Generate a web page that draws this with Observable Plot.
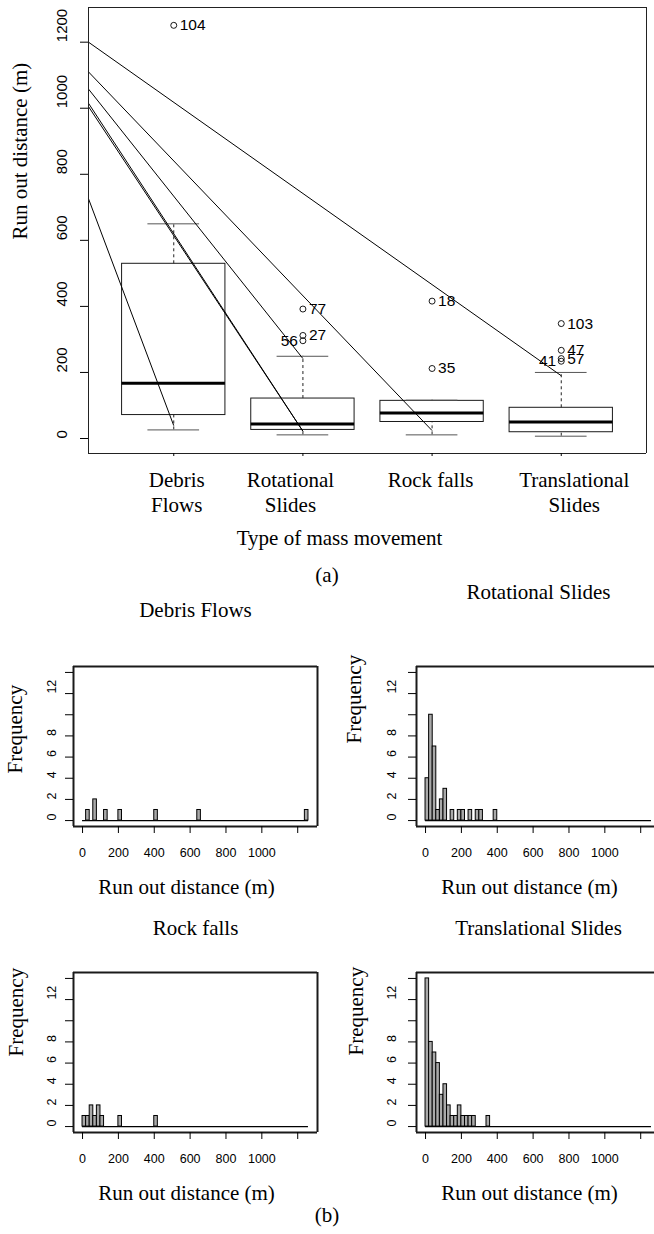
<!DOCTYPE html>
<html lang="en">
<head>
<meta charset="utf-8">
<title>Run out distance by type of mass movement</title>
<script src="https://cdn.jsdelivr.net/npm/d3@7"></script>
<script src="https://cdn.jsdelivr.net/npm/@observablehq/plot@0.6"></script>
<style>
  html, body { margin: 0; padding: 0; background: #fff; overflow: hidden; }
  #page { position: relative; width: 654px; height: 1234px; overflow: hidden; background: #fff; }
  #page svg { position: absolute; overflow: visible; }
  .panel-tag { position: absolute; left: 0; width: 654px; text-align: center;
    font-family: "Liberation Serif", "Times New Roman", Times, serif; font-size: 21px; line-height: 24px; color: #000; }
</style>
</head>
<body>
<div id="page"></div>
<script>
// ---------------- data ----------------
const categories = ["Debris Flows", "Rotational Slides", "Rock falls", "Translational Slides"];
const categoryTickLabels = ["Debris\nFlows", "Rotational\nSlides", "Rock falls", "Translational\nSlides"];

// Box-plot statistics per category (m)
const whiskerLow  = [26, 11, 11, 7];
const hingeLow    = [71, 26, 50, 19];
const medianValue = [167, 44, 77, 50];
const hingeHigh   = [529, 121, 114, 93];
const whiskerHigh = [650, 249, 116, 200];

// Outlying events: category (1-based), run out distance (m), event number
const outlierCategory = [1, 2, 2, 2, 3, 3, 4, 4, 4, 4];
const outlierValue    = [1251, 392, 312, 296, 416, 212, 348, 267, 242, 234];
const outlierId       = ["104", "77", "27", "56", "18", "35", "103", "47", "57", "41"];

// Straight lines over the box plot: value at the left edge, end category, end value (m)
const lineStartValue  = [1200, 1110, 1058, 1015, 1005, 726];
const lineEndCategory = [4, 3, 2, 2, 2, 1];
const lineEndValue    = [190, 24, 242, 22, 22, 39];

const runOutTicks = [0, 200, 400, 600, 800, 1000, 1200];

// Histograms: 20 m bins over 0–1260 m, given by lower bin edge and frequency
const binWidth = 20;
const binRange = [0, 1260];
const debrisBinStart = [20, 60, 120, 200, 400, 640, 1240];
const debrisCount    = [1, 2, 1, 1, 1, 1, 1];
const rotationalBinStart = [0, 20, 40, 60, 80, 100, 140, 180, 200, 240, 280, 300, 380];
const rotationalCount    = [4, 10, 7, 1, 2, 3, 1, 1, 1, 1, 1, 1, 1];
const rockfallBinStart = [0, 20, 40, 60, 80, 100, 200, 400];
const rockfallCount    = [1, 1, 2, 1, 2, 1, 1, 1];
const translationalBinStart = [0, 20, 40, 60, 80, 100, 120, 140, 160, 180, 200, 220, 240, 260, 340];
const translationalCount    = [14, 8, 7, 6, 3, 4, 2, 1, 1, 2, 1, 1, 1, 1, 1];

const freqTicks  = [0, 2, 4, 6, 8, 10, 12, 14];
const freqLabels = ["0", "2", "4", "6", "8", "", "12", ""];
const distTicks  = [0, 200, 400, 600, 800, 1000, 1200];
const distLabels = ["0", "200", "400", "600", "800", "1000", ""];

// ---------------- drawing ----------------
const SERIF = '"Liberation Serif", "Times New Roman", Times, serif';
const SANS = '"Liberation Sans", Arial, Helvetica, sans-serif';
const page = document.getElementById("page");

function place(node, left, top) {
  node.style.left = left + "px";
  node.style.top = top + "px";
  page.appendChild(node);
}
function tag(text, top) {
  const d = document.createElement("div");
  d.className = "panel-tag";
  d.style.top = top + "px";
  d.textContent = text;
  page.appendChild(d);
}
// box around the plotting area, as four rules on the scale domains
function border(xDom, yDom, stroke, strokeWidth = 1) {
  return [
    Plot.ruleY(yDom, {x1: xDom[0], x2: xDom[1], stroke, strokeWidth}),
    Plot.ruleX(xDom, {y1: yDom[0], y2: yDom[1], stroke, strokeWidth})
  ];
}

// (a) box plot of run out distance by type
const xDomainBox = [0.34, 4.66];
const yDomainBox = [-45.4, 1305];
const boxHalf = 0.4, capHalf = 0.2;
// horizontal nudge (px) of each category's label under the axis
const labelNudge = [3, -12.5, -1.5, 13];

const boxes = categories.map((name, i) => {
  const [line1, line2 = ""] = categoryTickLabels[i].split("\n");
  return {name, pos: i + 1, lo: whiskerLow[i], q1: hingeLow[i], med: medianValue[i],
          q3: hingeHigh[i], hi: whiskerHigh[i], line1, line2};
});
const outliers = outlierValue.map((v, i) => ({pos: outlierCategory[i], value: v, id: outlierId[i]}));
const labelOnLeft = new Set(["56", "41"]);
const segments = lineStartValue.map((v, i) => ({
  x1: xDomainBox[0], y1: v, x2: lineEndCategory[i], y2: lineEndValue[i]
}));

const categoryLabelMarks = boxes.flatMap((b, i) => [
  Plot.text([b], {x: "pos", text: "line1", frameAnchor: "bottom", dx: labelNudge[i], dy: 27,
    lineAnchor: "middle", fontFamily: SERIF, fontSize: 21}),
  Plot.text([b], {x: "pos", text: "line2", frameAnchor: "bottom", dx: labelNudge[i], dy: 52,
    lineAnchor: "middle", fontFamily: SERIF, fontSize: 21})
]);

const boxChart = Plot.plot({
  width: 654, height: 556,
  marginTop: 7, marginRight: 8, marginBottom: 103, marginLeft: 88,
  x: {domain: xDomainBox, label: null, axis: null},
  y: {domain: yDomainBox, label: null, axis: null},
  style: {background: "transparent", fontFamily: SANS, color: "#000"},
  marks: [
    Plot.rect(boxes, {x1: d => d.pos - boxHalf, x2: d => d.pos + boxHalf, y1: "q1", y2: "q3",
      fill: "none", stroke: "#1a1a1a"}),
    Plot.ruleX(boxes, {x: "pos", y1: "q3", y2: "hi", stroke: "#222", strokeDasharray: "3,3"}),
    Plot.ruleX(boxes, {x: "pos", y1: "lo", y2: "q1", stroke: "#222", strokeDasharray: "3,3"}),
    Plot.ruleY(boxes, {y: "hi", x1: d => d.pos - capHalf, x2: d => d.pos + capHalf, stroke: "#555"}),
    Plot.ruleY(boxes, {y: "lo", x1: d => d.pos - capHalf, x2: d => d.pos + capHalf, stroke: "#555"}),
    Plot.ruleY(boxes, {y: "med", x1: d => d.pos - boxHalf, x2: d => d.pos + boxHalf,
      stroke: "#000", strokeWidth: 3}),
    Plot.dot(outliers, {x: "pos", y: "value", r: 3, fill: "none", stroke: "#000", strokeWidth: 0.9}),
    Plot.text(outliers.filter(d => !labelOnLeft.has(d.id)), {x: "pos", y: "value", text: "id",
      dx: 6, textAnchor: "start", lineAnchor: "middle", fontSize: 15.5}),
    Plot.text(outliers.filter(d => labelOnLeft.has(d.id)), {x: "pos", y: "value", text: "id",
      dx: -5, textAnchor: "end", lineAnchor: "middle", fontSize: 15.5}),
    Plot.link(segments, {x1: "x1", y1: "y1", x2: "x2", y2: "y2", stroke: "#000", strokeWidth: 1}),
    ...border(xDomainBox, yDomainBox, "#222"),
    Plot.axisY(runOutTicks, {anchor: "left", tickSize: 8, tickFormat: () => "", label: null}),
    Plot.text(runOutTicks, {y: d => d, text: d => String(d), frameAnchor: "left", dx: -26,
      rotate: -90, lineAnchor: "middle", fontSize: 15}),
    Plot.axisX([1, 2, 3, 4], {anchor: "bottom", tickSize: 3, tickFormat: () => "", label: null}),
    ...categoryLabelMarks,
    Plot.text(["Type of mass movement"], {text: d => d, frameAnchor: "bottom", dx: -28, dy: 85,
      lineAnchor: "middle", fontFamily: SERIF, fontSize: 21}),
    Plot.text(["Run out distance (m)"], {text: d => d, frameAnchor: "left", dx: -68, dy: 9, rotate: -90,
      lineAnchor: "middle", fontFamily: SERIF, fontSize: 21})
  ]
});
place(boxChart, 0, 0);
tag("(a)", 563);

// (b) histograms of run out distance, one per type
const xDomainHist = [-50.4, 1310.4];
const yDomainHist = [-0.56, 14.56];

function histogram({title, binStart, count, titleDy, ylabDx, ylabDy, tickLabelDx}) {
  const bins = binStart.map((s, i) => ({x1: s, x2: s + binWidth, n: count[i]}));
  return Plot.plot({
    width: 340, height: 310,
    marginTop: 76, marginRight: 23, marginBottom: 74, marginLeft: 73,
    x: {domain: xDomainHist, label: null, axis: null},
    y: {domain: yDomainHist, label: null, axis: null},
    style: {background: "transparent", fontFamily: SANS, color: "#000"},
    marks: [
      Plot.ruleY([0], {x1: binRange[0], x2: binRange[1], stroke: "#000", strokeWidth: 1.3}),
      Plot.rectY(bins, {x1: "x1", x2: "x2", y: "n", fill: "#a9a9a9", stroke: "#000", strokeWidth: 1}),
      ...border(xDomainHist, yDomainHist, "#1a1a1a", 2),
      Plot.axisY(freqTicks, {anchor: "left", tickSize: 8, tickFormat: () => "", label: null}),
      Plot.text(freqTicks, {y: d => d, text: (d, i) => freqLabels[i], frameAnchor: "left",
        dx: tickLabelDx, rotate: -90, lineAnchor: "middle", fontSize: 12.5}),
      Plot.axisX(distTicks, {anchor: "bottom", tickSize: 7, tickFormat: () => "", label: null}),
      Plot.text(distTicks, {x: d => d, text: (d, i) => distLabels[i], frameAnchor: "bottom",
        dy: 26, lineAnchor: "middle", fontSize: 12.5}),
      Plot.text([title], {text: d => d, frameAnchor: "top", dy: titleDy, lineAnchor: "middle",
        fontFamily: SERIF, fontSize: 21}),
      Plot.text(["Run out distance (m)"], {text: d => d, frameAnchor: "bottom", dx: -9, dy: 61,
        lineAnchor: "middle", fontFamily: SERIF, fontSize: 21}),
      Plot.text(["Frequency"], {text: d => d, frameAnchor: "left", dx: ylabDx, dy: ylabDy, rotate: -90,
        lineAnchor: "middle", fontFamily: SERIF, fontSize: 21})
    ]
  });
}

const colLeft = [0, 342.7];
const rowTop = [590, 896.3];
const panels = [
  {title: categories[0], binStart: debrisBinStart, count: debrisCount, col: 0, row: 0,
   titleDy: -56, ylabDx: -58, ylabDy: 27, tickLabelDx: -22},
  {title: categories[1], binStart: rotationalBinStart, count: rotationalCount, col: 1, row: 0,
   titleDy: -74, ylabDx: -62, ylabDy: -3, tickLabelDx: -24.5},
  {title: categories[2], binStart: rockfallBinStart, count: rockfallCount, col: 0, row: 1,
   titleDy: -44, ylabDx: -57, ylabDy: 4, tickLabelDx: -22},
  {title: categories[3], binStart: translationalBinStart, count: translationalCount, col: 1, row: 1,
   titleDy: -44, ylabDx: -60, ylabDy: 3, tickLabelDx: -24.5}
];
for (const p of panels) place(histogram(p), colLeft[p.col], rowTop[p.row]);
tag("(b)", 1203);
</script>
</body>
</html>
